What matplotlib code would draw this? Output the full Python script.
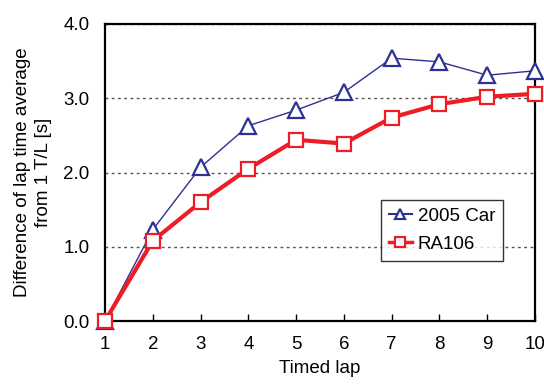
import matplotlib
matplotlib.use("Agg")
import matplotlib.pyplot as plt

plt.rcParams['font.family'] = ['Liberation Sans', 'DejaVu Sans']

laps = [1, 2, 3, 4, 5, 6, 7, 8, 9, 10]
car2005 = [0.0, 1.23, 2.07, 2.63, 2.84, 3.08, 3.54, 3.49, 3.31, 3.37]
ra106 = [0.0, 1.08, 1.60, 2.05, 2.44, 2.39, 2.74, 2.92, 3.02, 3.06]
yticks = [0.0, 1.0, 2.0, 3.0, 4.0]

blue = '#2E3192'
red = '#EE1C25'
fs = 13.5

fig = plt.figure(figsize=(5.44, 3.88), dpi=100)
ax = fig.add_axes([105 / 544, 1 - 321 / 388, 430 / 544, 297 / 388])

ax.plot(laps, car2005, color=blue, lw=1.0, marker='^', ms=11, mfc='white',
        mec=blue, mew=1.6, label='2005 Car', clip_on=False, zorder=3)
ax.plot(laps, ra106, color=red, lw=3.0, marker='s', ms=10.5, mfc='white',
        mec=red, mew=1.6, label='RA106', clip_on=False, zorder=4)

ax.set_xlim(1, 10)
ax.set_ylim(0, 4)
ax.set_xticks(laps)
ax.set_yticks(yticks)
ax.set_yticklabels([f'{v:.1f}' for v in yticks])
ax.yaxis.grid(True, linestyle=(0, (2, 2.5)), color='#555555', lw=1.0)
ax.set_axisbelow(True)

for s in ax.spines.values():
    s.set_linewidth(1.6)
    s.set_color('black')

ax.tick_params(axis='x', direction='in', length=5, width=1, pad=11, labelsize=fs)
ax.tick_params(axis='y', direction='in', length=0, pad=11, labelsize=fs)

ax.set_xlabel('Timed lap', fontsize=fs, labelpad=5)
ax.set_ylabel('Difference of lap time average\nfrom 1 T/L [s]', fontsize=13.5,
              labelpad=8, linespacing=1.3)

leg = ax.legend(loc='upper left', bbox_to_anchor=(276 / 430, 121 / 297),
                borderaxespad=0, fontsize=fs, frameon=True, fancybox=False,
                handlelength=1.25, handletextpad=0.3, borderpad=0.4,
                labelspacing=0.6, markerscale=0.65)
leg.get_frame().set_edgecolor('black')
leg.get_frame().set_linewidth(1.0)
for h in leg.get_lines():
    h.set_linewidth(1.5 if h.get_label() == '2005 Car' else 2.5)

fig.savefig('out.png', dpi=100)
